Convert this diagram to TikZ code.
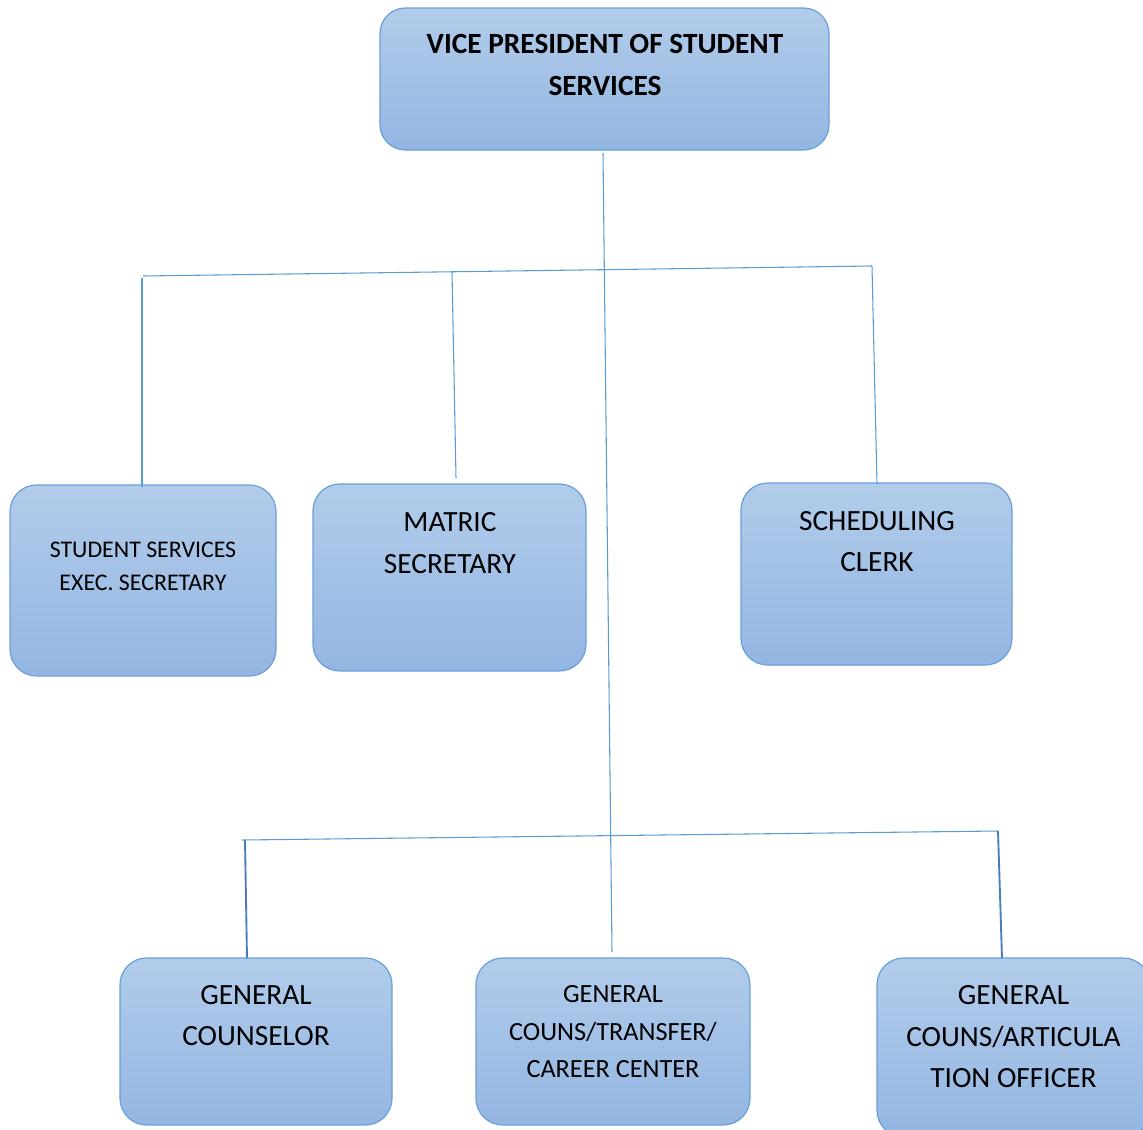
\documentclass[tikz,border=0pt]{standalone}
\usepackage{fontspec}
\setmainfont{Carlito}
\definecolor{boxtop}{HTML}{B2CCEA}
\definecolor{boxbot}{HTML}{93B6E2}
\definecolor{boxline}{HTML}{6A9FD8}
\definecolor{wire}{HTML}{5B9BD5}
\definecolor{wiredark}{HTML}{4A7EBB}
\tikzset{
  orgbox/.style={draw=boxline, line width=0.9pt, top color=boxtop, bottom color=boxbot,
    rounded corners=20pt, inner sep=0pt},
  boxtext/.style={anchor=north, align=center, inner sep=0pt, text=black},
  wireline/.style={draw=wire, line width=0.8pt},
  wirebold/.style={draw=wiredark, line width=1.4pt},
}
\newcommand{\fsz}[2]{\fontsize{#1}{#2}\selectfont}
\begin{document}
\begin{tikzpicture}[x=0.75pt, y=-0.75pt]
\useasboundingbox (0,0) rectangle (1143,1129);
\clip (0,0) rectangle (1143,1129);

% boxes
\node[orgbox, rounded corners=19pt, minimum width=336.75pt, minimum height=106.5pt] (vp) at (604.5,79) {};
\node[orgbox, minimum width=199.5pt, minimum height=143.25pt] (exec) at (143,580.5) {};
\node[orgbox, minimum width=204.75pt, minimum height=140.25pt] (matric) at (449.5,577.5) {};
\node[orgbox, minimum width=203.25pt, minimum height=136.5pt] (sched) at (876.5,574) {};
\node[orgbox, minimum width=204pt, minimum height=125.25pt] (couns) at (256,1041.5) {};
\node[orgbox, minimum width=205.5pt, minimum height=125.25pt] (trans) at (613,1041.5) {};
\node[orgbox, minimum width=204.75pt, minimum height=134.25pt] (artic) at (1013.5,1047.5) {};

% labels
\node[boxtext, font=\fsz{22}{31.5}\bfseries] (vptxt) at (605,33.5) {VICE PRESIDENT OF STUDENT\\SERVICES};
\node[boxtext, font=\fsz{17.9}{24.75}] (exectxt) at (143,541.3) {STUDENT SERVICES\\EXEC. SECRETARY};
\node[boxtext, font=\fsz{22}{31.5}] (matrictxt) at (450,512.5) {MATRIC\\SECRETARY};
\node[boxtext, font=\fsz{22}{30.75}] (schedtxt) at (877,511.5) {SCHEDULING\\CLERK};
\node[boxtext, font=\fsz{22}{30.75}] (counstxt) at (256,985.5) {GENERAL\\COUNSELOR};
\node[boxtext, font=\fsz{19.7}{28.1}] (transtxt) at (613,985.5) {GENERAL\\COUNS/TRANSFER/\\CAREER CENTER};
\node[boxtext, font=\fsz{22}{31.1}] (artictxt) at (1013.5,985.5) {GENERAL\\COUNS/ARTICULA\\TION OFFICER};

% junction points of the connector tree
\coordinate (vpout) at (603,153);
\coordinate (transin) at (612,952);
\coordinate (upL) at (143,276);
\coordinate (upR) at (872,266);
\coordinate (upM) at (452,272);
\coordinate (execin) at (142,487);
\coordinate (matricin) at (456,478);
\coordinate (schedin) at (877,484);
\coordinate (loL) at (242,840);
\coordinate (loR) at (998,831);
\coordinate (counsdrop) at (245,840);
\coordinate (counsin) at (247,958);
\coordinate (articin) at (1002,958);

% connectors
\draw[wireline] (vpout) -- (transin);
\draw[wireline] (upL) -- (upR);
\draw[wireline] (142,278) -- (execin);
\draw[wireline] (upM) -- (matricin);
\draw[wireline] (upR) -- (schedin);
\draw[wireline] (loL) -- (loR);
\draw[wirebold] (counsdrop) -- (counsin);
\draw[wirebold] (loR) -- (articin);
\end{tikzpicture}
\end{document}
